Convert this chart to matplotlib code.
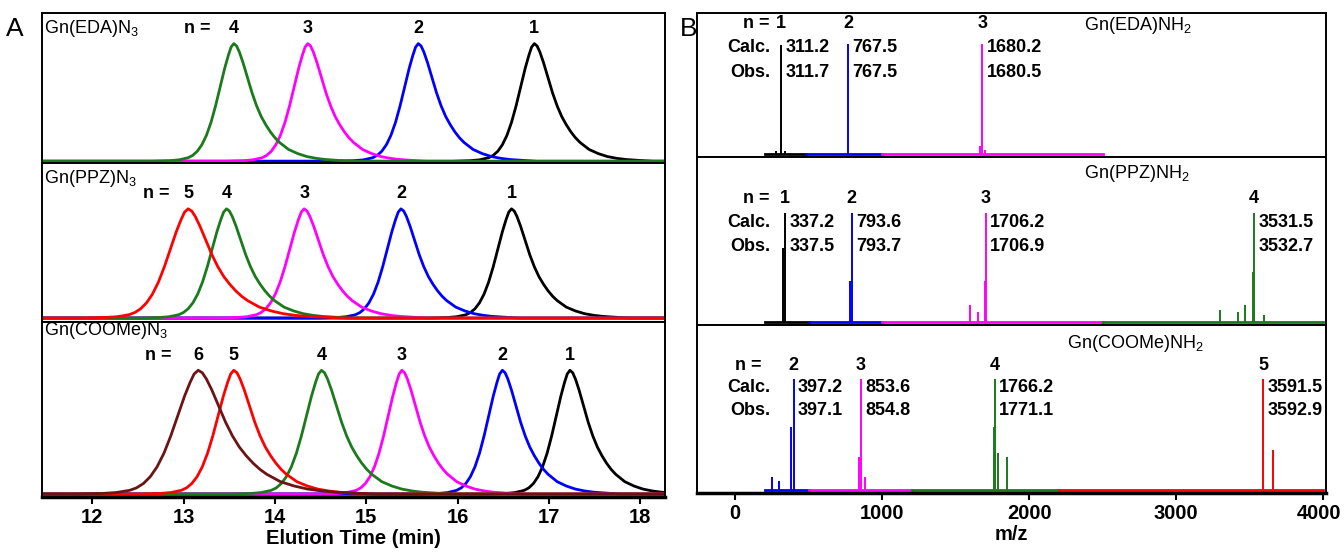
import numpy as np
import matplotlib.pyplot as plt
from matplotlib.transforms import ScaledTranslation

plt.rcParams['font.family'] = ['Liberation Sans Narrow', 'Liberation Sans', 'DejaVu Sans']
plt.rcParams['mathtext.default'] = 'regular'

GREEN = '#1b7a1b'
BROWN = '#6a1414'
FS = 13
FS_AX = 14.5

# ---- panel A: SEC traces ----
# normalised peak shape (offset in min, relative height)
PROFILE_DT = [-0.9, -0.7, -0.6, -0.5, -0.45, -0.4, -0.35, -0.3, -0.25, -0.2,
              -0.15, -0.1, -0.06, -0.03, 0.0, 0.03, 0.06, 0.1, 0.15, 0.2,
              0.25, 0.3, 0.35, 0.4, 0.45, 0.5, 0.6, 0.7, 0.8, 0.9, 1.0,
              1.15, 1.3]
PROFILE_H = [0.0, 0.005, 0.012, 0.03, 0.05, 0.085, 0.14, 0.22, 0.33, 0.47,
             0.63, 0.79, 0.9, 0.97, 1.0, 0.98, 0.93, 0.84, 0.71, 0.58,
             0.47, 0.38, 0.31, 0.25, 0.2, 0.16, 0.1, 0.065, 0.04, 0.025, 0.015,
             0.007, 0.0]

EDA_N = [1, 2, 3, 4]
EDA_T = [16.84, 15.57, 14.36, 13.55]
EDA_W = [1.0, 1.0, 1.0, 1.0]
EDA_C = ['black', 'blue', 'magenta', GREEN]

PPZ_N = [1, 2, 3, 4, 5]
PPZ_T = [16.59, 15.38, 14.32, 13.47, 13.05]
PPZ_W = [1.0, 1.0, 1.05, 1.05, 1.3]
PPZ_C = ['black', 'blue', 'magenta', GREEN, 'red']

COO_N = [1, 2, 3, 4, 5, 6]
COO_T = [17.23, 16.49, 15.39, 14.51, 13.55, 13.16]
COO_W = [1.0, 1.0, 1.0, 1.1, 1.15, 1.5]
COO_C = ['black', 'blue', 'magenta', GREEN, 'red', BROWN]

XLIM_A = (11.45, 18.27)

# ---- panel B: MALDI spectra ----
# baseline segments (start, end, colour)
EDA_SEG = [(200, 480, 'black'), (480, 1000, 'blue'), (1000, 2500, 'magenta')]
PPZ_SEG = [(200, 500, 'black'), (500, 1000, 'blue'), (1000, 2500, 'magenta'),
           (2500, 4000, GREEN)]
COO_SEG = [(200, 500, 'blue'), (500, 1200, 'magenta'), (1200, 2200, GREEN),
           (2200, 4000, 'red')]

# peaks (m/z, height, colour)
EDA_PK_MZ = [311, 767.5, 1680, 1665, 1700, 280, 340]
EDA_PK_H = [0.77, 0.78, 0.78, 0.06, 0.03, 0.02, 0.02]
EDA_PK_C = ['black', 'blue', 'magenta', 'magenta', 'magenta', 'black', 'black']

PPZ_PK_MZ = [337, 322, 793.6, 780, 1706, 1700, 1600, 1650, 3531, 3520,
             3300, 3420, 3470, 3600]
PPZ_PK_H = [0.66, 0.45, 0.66, 0.25, 0.66, 0.25, 0.10, 0.06, 0.66, 0.30,
            0.07, 0.06, 0.10, 0.04]
PPZ_PK_C = ['black', 'black', 'blue', 'blue', 'magenta', 'magenta', 'magenta',
            'magenta', GREEN, GREEN, GREEN, GREEN, GREEN, GREEN]

COO_PK_MZ = [397, 380, 250, 300, 854, 840, 880, 1771, 1760, 1790, 1850,
             3592, 3660]
COO_PK_H = [0.67, 0.38, 0.08, 0.05, 0.67, 0.20, 0.08, 0.67, 0.38, 0.22, 0.20,
            0.67, 0.24]
COO_PK_C = ['blue', 'blue', 'blue', 'blue', 'magenta', 'magenta', 'magenta',
            GREEN, GREEN, GREEN, GREEN, 'red', 'red']

EDA_MS_N = ['1', '2', '3']
EDA_MS_AT = [311.2, 767.5, 1680.2]
EDA_CALC = ['311.2', '767.5', '1680.2']
EDA_OBS = ['311.7', '767.5', '1680.5']

PPZ_MS_N = ['1', '2', '3', '4']
PPZ_MS_AT = [337.2, 793.6, 1706.2, 3531.5]
PPZ_CALC = ['337.2', '793.6', '1706.2', '3531.5']
PPZ_OBS = ['337.5', '793.7', '1706.9', '3532.7']

COO_MS_N = ['2', '3', '4', '5']
COO_MS_AT = [397.2, 853.6, 1766.2, 3591.5]
COO_CALC = ['397.2', '853.6', '1766.2', '3591.5']
COO_OBS = ['397.1', '854.8', '1771.1', '3592.9']

XLIM_B = (-260, 4020)


def sec_panel(ax, centers, widths, colors, numbers, title, title_y,
              n_x, n_y, ylim):
    dt = np.array(PROFILE_DT)
    for t, w, c in zip(centers, widths, colors):
        x = np.concatenate([[XLIM_A[0]], t + w * dt, [XLIM_A[1]]])
        y = np.concatenate([[0], PROFILE_H, [0]])
        ax.plot(x, y, color=c, lw=2)
    ax.set_xlim(XLIM_A)
    ax.set_ylim(ylim)
    tr = ax.get_xaxis_transform()
    ax.text(0.004, title_y, title, transform=ax.transAxes, fontsize=FS,
            va='center', ha='left')
    ax.text(n_x, n_y, 'n =', transform=tr, fontsize=FS, fontweight='bold',
            ha='center', va='center')
    for t, n in zip(centers, numbers):
        ax.text(t, n_y, str(n), transform=tr, fontsize=FS, fontweight='bold',
                ha='center', va='center')


def ms_panel(ax, segs, pk_mz, pk_h, pk_c, labels, at, calc, obs, title,
             title_x, title_y, n_x, rows):
    for a, b, c in segs:
        ax.plot([a, b], [0, 0], color=c, lw=2)
    ax.vlines(pk_mz, 0, pk_h, colors=pk_c, lw=1.4)
    ax.set_xlim(XLIM_B)
    ax.set_ylim(-0.02, 1.0)
    tr = ax.get_xaxis_transform()
    ny, cy, oy = rows
    ax.text(title_x, title_y, title, transform=tr, fontsize=FS, ha='left',
            va='center')
    ax.text(n_x, ny, 'n =', transform=tr, fontsize=FS, fontweight='bold',
            ha='center', va='center')
    ax.text(237, cy, 'Calc.', transform=tr, fontsize=FS, fontweight='bold',
            ha='right', va='center')
    ax.text(237, oy, 'Obs.', transform=tr, fontsize=FS, fontweight='bold',
            ha='right', va='center')
    for lab, m, cv, ov in zip(labels, at, calc, obs):
        ax.text(m, ny, lab, transform=tr, fontsize=FS, fontweight='bold',
                ha='center', va='center')
        ax.text(m + 30, cy, cv, transform=tr, fontsize=FS, fontweight='bold',
                ha='left', va='center')
        ax.text(m + 30, oy, ov, transform=tr, fontsize=FS, fontweight='bold',
                ha='left', va='center')


fig = plt.figure(figsize=(13.44, 5.56), dpi=100)

axA1 = fig.add_axes([0.03125, 0.7068, 0.4635, 0.2698])
axA2 = fig.add_axes([0.03125, 0.4209, 0.4635, 0.2860])
axA3 = fig.add_axes([0.03125, 0.1061, 0.4635, 0.3147])
axB1 = fig.add_axes([0.5186, 0.7176, 0.4680, 0.2590])
axB2 = fig.add_axes([0.5186, 0.4155, 0.4680, 0.3022])
axB3 = fig.add_axes([0.5186, 0.1133, 0.4680, 0.3022])

sec_panel(axA1, EDA_T, EDA_W, EDA_C, EDA_N, r'Gn(EDA)N$_3$', 0.9,
          13.15, 0.9, (-0.015, 1.26))
sec_panel(axA2, PPZ_T, PPZ_W, PPZ_C, PPZ_N, r'Gn(PPZ)N$_3$', 0.9,
          12.7, 0.81, (-0.036, 1.42))
sec_panel(axA3, COO_T, COO_W, COO_C, COO_N, r'Gn(COOMe)N$_3$', 0.95,
          12.72, 0.81, (-0.024, 1.39))

ms_panel(axB1, EDA_SEG, EDA_PK_MZ, EDA_PK_H, EDA_PK_C, EDA_MS_N, EDA_MS_AT,
         EDA_CALC, EDA_OBS, r'Gn(EDA)NH$_2$', 2373, 0.91, 140,
         (0.93, 0.76, 0.59))
ms_panel(axB2, PPZ_SEG, PPZ_PK_MZ, PPZ_PK_H, PPZ_PK_C, PPZ_MS_N, PPZ_MS_AT,
         PPZ_CALC, PPZ_OBS, r'Gn(PPZ)NH$_2$', 2373, 0.9, 140,
         (0.75, 0.61, 0.47))
ms_panel(axB3, COO_SEG, COO_PK_MZ, COO_PK_H, COO_PK_C, COO_MS_N, COO_MS_AT,
         COO_CALC, COO_OBS, r'Gn(COOMe)NH$_2$', 2258, 0.89, 88,
         (0.76, 0.63, 0.49))

for ax in [axA1, axA2, axA3, axB1, axB2, axB3]:
    for s in ax.spines.values():
        s.set_linewidth(1.4)
    ax.set_yticks([])
for ax in [axA1, axA2, axB1, axB2]:
    ax.set_xticks([])

axA3.set_xticks(range(12, 19))
axA3.set_xticklabels([str(v) for v in range(12, 19)], fontweight='bold')
axA3.set_xlabel('Elution Time (min)', fontsize=FS_AX, fontweight='bold',
                labelpad=1)
axB3.set_xticks(range(0, 4001, 1000))
axB3.set_xticklabels([str(v) for v in range(0, 4001, 1000)],
                     fontweight='bold')
axB3.set_xlabel('m/z', fontsize=FS_AX, fontweight='bold', labelpad=1)

for ax in [axA3, axB3]:
    ax.spines['bottom'].set_linewidth(2.5)
    ax.tick_params(axis='x', direction='out', length=5, width=1.5,
                   labelsize=FS_AX, pad=3)

# keep the last m/z label inside the figure edge
last = axB3.get_xticklabels()[-1]
last.set_transform(last.get_transform() +
                   ScaledTranslation(-4 / 100, 0, fig.dpi_scale_trans))

fig.text(0.011, 0.948, 'A', fontsize=19, ha='center', va='center',
         family=['Liberation Sans', 'DejaVu Sans'])
fig.text(0.512, 0.948, 'B', fontsize=19, ha='center', va='center',
         family=['Liberation Sans', 'DejaVu Sans'])

fig.savefig('out.png', dpi=100)
